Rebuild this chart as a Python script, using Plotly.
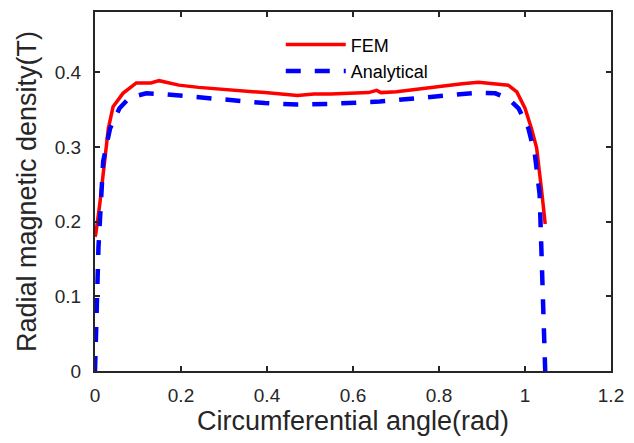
import plotly.graph_objects as go

fem_x = [0.0, 0.002, 0.011, 0.023, 0.031, 0.042, 0.065, 0.096, 0.130, 0.149, 0.195, 0.241, 0.318,
         0.395, 0.471, 0.509, 0.548, 0.636, 0.655, 0.665, 0.701, 0.777, 0.854, 0.892, 0.931, 0.961,
         0.981, 1.000, 1.015, 1.027, 1.038, 1.047]
fem_y = [0.180, 0.184, 0.223, 0.281, 0.325, 0.354, 0.372, 0.386, 0.386, 0.389, 0.383, 0.380, 0.377,
         0.373, 0.369, 0.371, 0.371, 0.373, 0.376, 0.373, 0.374, 0.380, 0.385, 0.387, 0.385, 0.383,
         0.374, 0.352, 0.325, 0.299, 0.245, 0.197]

ana_x = [0.0, 0.003, 0.005, 0.008, 0.013, 0.019, 0.035, 0.057, 0.080, 0.119, 0.157, 0.218, 0.318,
         0.395, 0.471, 0.548, 0.662, 0.739, 0.816, 0.893, 0.931, 0.961, 0.985, 1.008, 1.023, 1.034,
         1.038, 1.042, 1.046, 1.047]
ana_y = [0.0, 0.045, 0.103, 0.165, 0.223, 0.281, 0.325, 0.352, 0.366, 0.372, 0.371, 0.368, 0.362,
         0.359, 0.357, 0.358, 0.361, 0.365, 0.370, 0.373, 0.372, 0.365, 0.352, 0.325, 0.290, 0.237,
         0.165, 0.103, 0.045, 0.0]

x_ticks = [0, 0.2, 0.4, 0.6, 0.8, 1.0, 1.2]
x_tick_labels = ["0", "0.2", "0.4", "0.6", "0.8", "1", "1.2"]
y_ticks = [0, 0.1, 0.2, 0.3, 0.4]
y_tick_labels = ["0", "0.1", "0.2", "0.3", "0.4"]

FONT = "Liberation Sans, Arial"
INK = "#262626"

fig = go.Figure()
fig.add_trace(go.Scatter(x=fem_x, y=fem_y, mode="lines", name="FEM",
                         line=dict(color="#ff0000", width=3.5)))
fig.add_trace(go.Scatter(x=ana_x, y=ana_y, mode="lines", name="Analytical",
                         line=dict(color="#0000ff", width=4.5, dash="15px,14px")))

axis_common = dict(showline=True, linecolor=INK, linewidth=2, mirror="ticks",
                   ticks="inside", ticklen=5, tickwidth=2, tickcolor=INK,
                   showgrid=False, zeroline=False,
                   tickfont=dict(family=FONT, size=19, color=INK))

fig.update_xaxes(range=[0, 1.2], tickvals=x_ticks, ticktext=x_tick_labels,
                 ticklabelstandoff=6,
                 title=dict(text="Circumferential angle(rad)", standoff=6,
                            font=dict(family=FONT, size=27, color=INK)),
                 **axis_common)
fig.update_yaxes(range=[0, 0.481], tickvals=y_ticks, ticktext=y_tick_labels,
                 ticklabelstandoff=8,
                 title=dict(text="Radial magnetic density(T)", standoff=10,
                            font=dict(family=FONT, size=27, color=INK)),
                 **axis_common)

fig.update_layout(
    width=634, height=443,
    margin=dict(l=95, r=17, t=10, b=72),
    plot_bgcolor="white", paper_bgcolor="white",
    font=dict(family=FONT, color=INK),
    legend=dict(x=0.36, y=0.96, xanchor="left", yanchor="top",
                bgcolor="rgba(0,0,0,0)", itemwidth=60,
                font=dict(family=FONT, size=18, color="#000000"),
                tracegroupgap=0),
    showlegend=True,
)

fig.write_html("out.html")
